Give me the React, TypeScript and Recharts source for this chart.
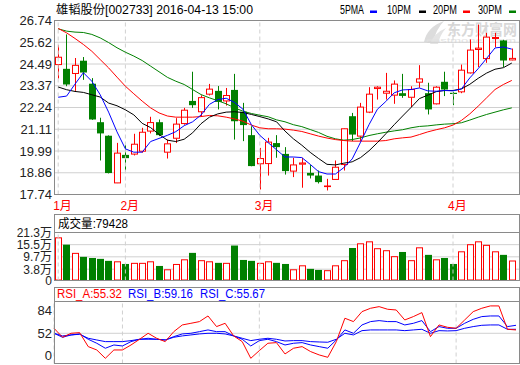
import React from 'react';
import { ComposedChart, BarChart, LineChart, Bar, Line, XAxis, YAxis, CartesianGrid, ReferenceLine } from 'recharts';

const OPEN = [24.46, 24.24, 24.0, 24.66, 23.47, 21.48, 20.78, 18.34, 19.79, 19.83, 19.98, 21.02, 21.48, 19.93, 20.65, 21.41, 22.58, 22.02, 22.93, 23.1, 22.58, 23.15, 22.02, 20.81, 19.33, 19.34, 20.4, 19.84, 18.95, 19.31, 18.86, 18.72, 18.16, 18.52, 19.29, 21.79, 20.76, 22.0, 23.22, 22.98, 22.88, 22.98, 22.77, 23.55, 22.98, 22.43, 23.57, 23.0, 23.05, 24.03, 25.24, 24.77, 25.81, 25.71, 24.7];
const HIGH = [25.46, 26.02, 24.8, 24.85, 23.76, 21.71, 20.8, 20.41, 20.3, 20.88, 21.19, 21.76, 21.62, 20.58, 21.69, 22.22, 24.09, 22.87, 23.46, 23.35, 23.25, 23.98, 22.48, 21.27, 20.15, 20.67, 20.81, 20.19, 19.64, 19.64, 19.26, 18.98, 18.55, 19.5, 21.16, 21.96, 22.48, 23.29, 23.34, 24.03, 23.64, 23.98, 23.34, 24.43, 23.52, 23.34, 24.09, 23.05, 24.46, 25.76, 26.53, 26.1, 26.1, 25.74, 25.29];
const LOW = [23.74, 23.34, 23.1, 23.67, 21.6, 19.5, 18.83, 18.33, 18.98, 19.76, 19.9, 20.9, 20.76, 19.6, 20.4, 21.35, 22.22, 21.76, 22.86, 22.14, 22.34, 20.58, 20.5, 19.2, 18.0, 18.72, 19.64, 18.77, 18.64, 18.09, 18.57, 18.31, 17.95, 18.5, 18.98, 20.5, 20.5, 21.95, 22.65, 22.65, 22.43, 22.74, 22.26, 23.26, 21.88, 22.4, 22.83, 22.36, 22.98, 24.0, 24.33, 24.55, 25.36, 24.33, 24.68];
const CLOSE = [24.84, 23.43, 24.42, 24.05, 21.62, 20.9, 18.85, 19.88, 19.62, 20.34, 20.96, 21.46, 20.81, 20.36, 21.38, 22.1, 22.36, 22.75, 23.19, 22.53, 22.86, 21.53, 21.33, 19.21, 19.6, 20.45, 20.19, 18.95, 19.27, 19.37, 18.72, 18.38, 18.18, 19.15, 21.14, 20.84, 22.26, 22.93, 23.29, 23.08, 23.45, 22.84, 23.17, 23.72, 22.14, 23.29, 23.17, 22.98, 24.17, 25.21, 25.31, 25.88, 25.86, 24.67, 24.78];

const MA5 = [22.77, 22.83, 23.45, 24.04, 23.6, 22.9, 22.0, 20.98, 20.1, 19.93, 19.93, 20.48, 20.64, 20.8, 20.99, 21.3, 21.5, 21.85, 22.4, 22.65, 22.72, 22.5, 22.15, 21.35, 20.8, 20.42, 20.05, 19.68, 19.68, 19.65, 19.3, 18.92, 18.8, 18.8, 19.13, 19.58, 20.45, 21.35, 22.15, 22.55, 23.0, 23.15, 23.17, 23.25, 23.1, 23.08, 23.12, 23.1, 23.2, 23.77, 24.25, 24.78, 25.32, 25.37, 25.26];
const MA10 = [23.3, 23.16, 23.07, 23.02, 22.9, 22.78, 22.47, 22.33, 22.12, 21.86, 21.42, 21.2, 20.85, 20.55, 20.48, 20.6, 20.93, 21.4, 21.74, 21.91, 22.0, 22.02, 21.98, 21.88, 21.77, 21.65, 21.5, 21.02, 20.62, 20.29, 19.92, 19.6, 19.3, 19.27, 19.36, 19.43, 19.65, 20.0, 20.42, 20.88, 21.35, 21.8, 22.24, 22.7, 22.88, 23.06, 23.12, 23.12, 23.2, 23.44, 23.75, 24.02, 24.22, 24.3, 24.54];
const MA20 = [26.33, 26.1, 25.81, 25.5, 25.15, 24.72, 24.29, 23.81, 23.34, 22.95, 22.57, 22.22, 21.96, 21.8, 21.74, 21.74, 21.74, 21.77, 21.83, 21.81, 21.74, 21.65, 21.53, 21.33, 21.19, 21.14, 21.14, 21.12, 21.07, 21.0, 20.88, 20.76, 20.66, 20.58, 20.53, 20.5, 20.5, 20.5, 20.5, 20.53, 20.62, 20.67, 20.71, 20.84, 20.98, 21.09, 21.19, 21.33, 21.57, 21.91, 22.31, 22.74, 23.17, 23.43, 23.64];
const MA30 = [26.31, 26.19, 26.14, 26.12, 26.02, 25.84, 25.6, 25.33, 25.1, 24.9, 24.67, 24.38, 24.09, 23.8, 23.6, 23.43, 23.17, 22.91, 22.74, 22.59, 22.43, 22.22, 22.05, 21.93, 21.84, 21.76, 21.6, 21.5, 21.35, 21.25, 21.1, 20.95, 20.75, 20.62, 20.55, 20.58, 20.67, 20.79, 20.88, 20.96, 21.03, 21.09, 21.19, 21.26, 21.29, 21.34, 21.38, 21.4, 21.45, 21.59, 21.74, 21.88, 22.0, 22.12, 22.22];

// volume in 万 (last bar = 79428)
const VOLUME = [18.99, 15.5, 11.58, 9.68, 9.15, 8.72, 7.77, 7.56, 6.29, 6.82, 6.82, 7.56, 5.34, 3.75, 6.29, 8.51, 11.58, 8.09, 7.56, 6.82, 6.82, 15.08, 8.2, 7.77, 6.82, 7.56, 6.82, 6.29, 3.75, 5.65, 3.96, 3.43, 3.32, 5.65, 8.09, 13.91, 16.14, 17.09, 13.81, 12.85, 10.0, 12.01, 8.09, 14.23, 10.63, 8.51, 9.15, 6.29, 12.33, 15.71, 17.09, 15.4, 12.33, 10.63, 7.94];

const RSI_A = [59.0, 46.4, 52.0, 52.9, 33.3, 28.6, 16.9, 28.6, 28.6, 35.6, 43.6, 52.0, 45.0, 40.3, 54.3, 63.7, 66.0, 68.4, 76.3, 61.4, 66.0, 48.3, 40.3, 16.9, 27.7, 38.0, 38.9, 23.0, 31.0, 33.3, 26.3, 21.6, 18.3, 40.3, 73.1, 68.4, 82.4, 87.1, 89.4, 85.7, 84.7, 70.7, 75.4, 81.0, 47.3, 63.7, 60.4, 59.0, 70.7, 82.4, 87.1, 90.4, 90.4, 57.6, 56.7];
const RSI_B = [52.0, 46.4, 49.7, 51.1, 43.6, 38.0, 31.0, 35.6, 34.2, 40.3, 43.6, 45.0, 43.6, 42.6, 47.3, 51.1, 52.0, 54.3, 56.7, 54.3, 54.3, 48.3, 43.6, 34.2, 41.7, 43.6, 40.3, 35.6, 38.0, 38.9, 35.6, 33.3, 31.0, 42.6, 56.7, 52.0, 63.7, 68.4, 69.8, 68.4, 68.4, 63.7, 66.0, 69.8, 54.3, 61.4, 59.0, 59.0, 66.0, 71.6, 75.4, 76.3, 76.3, 61.4, 63.2];
const RSI_C = [52.0, 48.3, 49.7, 50.6, 45.0, 42.6, 40.3, 40.3, 40.3, 41.7, 43.6, 43.6, 43.6, 42.6, 46.4, 48.3, 49.7, 51.1, 52.0, 52.0, 51.1, 48.3, 45.0, 41.7, 43.6, 45.0, 43.6, 41.2, 41.7, 41.7, 40.3, 39.8, 39.4, 43.6, 52.0, 49.7, 55.7, 56.7, 56.7, 56.7, 56.7, 55.7, 56.7, 57.6, 52.0, 55.7, 55.3, 55.7, 59.0, 61.4, 63.2, 63.7, 63.7, 57.6, 57.6];

const MONTH_TICKS = [0, 8, 24, 47];
const MONTH_LABELS = ['1月', '2月', '3月', '4月'];
const PRICE_TICKS = [17.74, 18.865, 19.99, 21.115, 22.24, 23.365, 24.49, 25.615, 26.74];
const PRICE_TICK_LABELS = ['17.74', '18.86', '19.99', '21.11', '22.24', '23.37', '24.49', '25.62', '26.74'];
// the bottom label "0" sits at the panel's lower edge, as in the reference
const VOL_TICKS = [-1.6, 3.8, 9.7, 15.5, 21.3];
const VOL_TICK_LABELS = ['0', '3.8万', '9.7万', '15.5万', '21.3万'];
const RSI_TICKS = [20.8, 52, 84];
const RSI_TICK_LABELS = ['0', '52', '84'];

const TITLE = '雄韬股份[002733] 2016-04-13 15:00';
const LEGEND_NAMES = ['5PMA', '10PM', '20PM', '30PM'];
const VOL_TITLE = '成交量:79428';
const RSI_NAMES = ['RSI_A:55.32', 'RSI_B:59.16', 'RSI_C:55.67'];

const RED = '#ff0000';
const GREEN = '#008000';
const BLUE = '#0000ff';
const BLACK = '#000000';
const GRID = '#d0d0d0';
const FRAME = '#8a8a8a';
const FONT = "'Liberation Sans', Arial, 'Noto Sans CJK SC', sans-serif";

const data = CLOSE.map((c, i) => ({
  i,
  open: OPEN[i],
  high: HIGH[i],
  low: LOW[i],
  close: c,
  range: [LOW[i], HIGH[i]],
  ma5: MA5[i],
  ma10: MA10[i],
  ma20: MA20[i],
  ma30: MA30[i],
  vol: VOLUME[i],
  rsiA: RSI_A[i],
  rsiB: RSI_B[i],
  rsiC: RSI_C[i],
}));

const PAD = { left: 0, right: 3 };

function Candle(props: any) {
  const { x, y, width, height, payload } = props;
  if (!payload || !isFinite(y) || !isFinite(height)) return null;
  const { open, close, high, low } = payload;
  const cx = Math.floor(x + width / 2) + 0.5;
  const py = (v: number) => y + ((high - v) / (high - low)) * height;
  const up = close >= open;
  const top = py(Math.max(open, close));
  const bot = py(Math.min(open, close));
  if (up) {
    return (
      <g>
        <line x1={cx} x2={cx} y1={y} y2={top} stroke={RED} />
        <line x1={cx} x2={cx} y1={bot} y2={y + height} stroke={RED} />
        <rect x={cx - 3} y={top} width={6} height={Math.max(bot - top, 0.6)} fill="#fff" stroke={RED} />
      </g>
    );
  }
  return (
    <g>
      <line x1={cx} x2={cx} y1={y} y2={y + height} stroke={GREEN} />
      <rect x={cx - 3.5} y={top} width={7} height={Math.max(bot - top, 1.2)} fill={GREEN} />
    </g>
  );
}

function VolBar(props: any) {
  const { x, y, width, height, payload, background } = props;
  if (!payload || !isFinite(y) || !isFinite(height)) return null;
  const up = payload.close >= payload.open;
  const cx = Math.floor(x + width / 2) + 0.5;
  const bottom = background && isFinite(background.y) && isFinite(background.height) ? background.y + background.height : y + height;
  const h = Math.max(bottom - y, 0);
  if (up) {
    return <rect x={cx - 3} y={y + 0.5} width={6} height={Math.max(h - 1, 0)} fill="#fff" stroke={RED} />;
  }
  return <rect x={cx - 3.5} y={y} width={7} height={h} fill={GREEN} />;
}

function MonthTick(props: any) {
  const { x, y, payload } = props;
  const k = MONTH_TICKS.indexOf(payload.value);
  if (k < 0) return null;
  return (
    <text x={x - 5} y={y + 13} fill={RED} fontSize={12} fontFamily={FONT} textAnchor="start">
      {MONTH_LABELS[k]}
    </text>
  );
}

const makeYTick = (ticks: number[], labels: string[], size: number) => (props: any) => {
  const { x, y, payload } = props;
  const k = ticks.indexOf(payload.value);
  if (k < 0) return null;
  return (
    <text x={x} y={y} dy="0.36em" textAnchor="end" fontSize={size} fill="#222" fontFamily={FONT}>
      {labels[k]}
    </text>
  );
};

const PriceTick = makeYTick(PRICE_TICKS, PRICE_TICK_LABELS, 13);
const VolTick = makeYTick(VOL_TICKS, VOL_TICK_LABELS, 12);
const RsiTick = makeYTick(RSI_TICKS, RSI_TICK_LABELS, 13);

const LEGEND_COLORS = [BLUE, BLACK, RED, GREEN];
const LEGEND_X = [340, 387, 433, 478];
const LEGEND_DASH_X = [370, 419, 463, 509];
const RSI_COLORS = [RED, BLUE, BLUE];
const RSI_X = [57, 128, 200];

export default function App() {
  const abs: React.CSSProperties = { position: 'absolute', left: 0, top: 0 };
  return (
    <div style={{ position: 'absolute', left: 0, top: 0, width: 520, height: 365, background: '#fff', fontFamily: FONT, overflow: 'hidden' }}>
      {/* watermark */}
      <svg width={520} height={365} style={abs}>
        <path d="M424,42 Q427,27 444,21 Q436,29 433,43 Z" fill="#dcdcdc" />
        <path d="M430,44 Q434,33 446,28 Q440,35 438,44 Z" fill="#e4e4e4" />
        <text x={447} y={35} fontSize={15} fontWeight="bold" fill="#d8d8d8" fontFamily={FONT} textLength={70} lengthAdjust="spacingAndGlyphs">东方财富网</text>
        <text x={426} y={43} fontSize={8} fill="#e2e2e2" fontFamily={FONT} textLength={90} lengthAdjust="spacingAndGlyphs">eastmoney.com</text>
      </svg>

      {/* price panel */}
      <div style={abs}>
        <ComposedChart width={520} height={215} data={data} margin={{ top: 20.5, right: 1, bottom: 0.5, left: 0 }}>
          <CartesianGrid vertical={false} stroke={GRID} />
          <XAxis dataKey="i" type="category" padding={PAD} ticks={MONTH_TICKS} interval={0} axisLine={false} tickLine={false} tickSize={0} tickMargin={2} height={20} tick={(p: any) => <MonthTick {...p} />} />
          <YAxis domain={[17.74, 26.74]} allowDataOverflow ticks={PRICE_TICKS} interval={0} width={54} axisLine={false} tickLine={false} tickSize={0} tickMargin={2} tick={(p: any) => <PriceTick {...p} />} />
          {MONTH_TICKS.map((m) => (
            <ReferenceLine key={m} x={m} stroke={GRID} strokeDasharray="4 3" />
          ))}
          <Bar dataKey="range" barSize={7} shape={(p: any) => <Candle {...p} />} isAnimationActive={false} />
          <Line dataKey="ma30" type="linear" stroke={GREEN} strokeWidth={1} dot={false} activeDot={false} isAnimationActive={false} />
          <Line dataKey="ma20" type="linear" stroke={RED} strokeWidth={1} dot={false} activeDot={false} isAnimationActive={false} />
          <Line dataKey="ma10" type="linear" stroke={BLACK} strokeWidth={1} dot={false} activeDot={false} isAnimationActive={false} />
          <Line dataKey="ma5" type="linear" stroke={BLUE} strokeWidth={1} dot={false} activeDot={false} isAnimationActive={false} />
        </ComposedChart>
      </div>

      {/* volume panel */}
      <div style={abs}>
        <BarChart width={520} height={292} data={data} margin={{ top: 232.5, right: 1, bottom: 11.5, left: 0 }}>
          <CartesianGrid vertical={false} stroke={GRID} />
          <XAxis dataKey="i" type="category" padding={PAD} hide />
          <YAxis domain={[-1.6, 21.3]} allowDataOverflow ticks={VOL_TICKS} interval={0} width={54} axisLine={false} tickLine={false} tickSize={0} tickMargin={2} tick={(p: any) => <VolTick {...p} />} />
          {MONTH_TICKS.map((m) => (
            <ReferenceLine key={m} x={m} stroke={GRID} strokeDasharray="4 3" />
          ))}
          <Bar dataKey="vol" barSize={7} shape={(p: any) => <VolBar {...p} />} isAnimationActive={false} />
        </BarChart>
      </div>

      {/* RSI panel */}
      <div style={abs}>
        <LineChart width={520} height={365} data={data} margin={{ top: 301.5, right: 1, bottom: 1.5, left: 0 }}>
          <XAxis dataKey="i" type="category" padding={PAD} hide />
          <YAxis domain={[9.6, 96.6]} allowDataOverflow ticks={RSI_TICKS} interval={0} width={54} axisLine={false} tickLine={false} tickSize={0} tickMargin={2} tick={(p: any) => <RsiTick {...p} />} />
          <ReferenceLine y={52} stroke={GRID} />
          {MONTH_TICKS.map((m) => (
            <ReferenceLine key={m} x={m} stroke={GRID} strokeDasharray="4 3" />
          ))}
          <Line dataKey="rsiC" type="linear" stroke={BLUE} strokeWidth={1} dot={false} activeDot={false} isAnimationActive={false} />
          <Line dataKey="rsiB" type="linear" stroke={BLUE} strokeWidth={1} dot={false} activeDot={false} isAnimationActive={false} />
          <Line dataKey="rsiA" type="linear" stroke={RED} strokeWidth={1} dot={false} activeDot={false} isAnimationActive={false} />
        </LineChart>
      </div>

      {/* frames and titles */}
      <svg width={520} height={365} style={{ ...abs, pointerEvents: 'none' }}>
        <text x={56} y={14} fontSize={12} fill="#000" fontFamily={FONT} textLength={197} lengthAdjust="spacingAndGlyphs">{TITLE}</text>
        {LEGEND_NAMES.map((n, k) => (
          <g key={n}>
            <text x={LEGEND_X[k]} y={14} fontSize={12} fill="#000" fontFamily={FONT} textLength={24} lengthAdjust="spacingAndGlyphs">{n}</text>
            <rect x={LEGEND_DASH_X[k]} y={10.5} width={7} height={2.5} fill={LEGEND_COLORS[k]} />
          </g>
        ))}
        <rect x={54.5} y={20.5} width={465} height={174} fill="none" stroke={FRAME} />

        <rect x={54.5} y={214.5} width={465} height={66} fill="none" stroke={FRAME} />
        <line x1={54.5} x2={519.5} y1={232.5} y2={232.5} stroke={FRAME} />
        <text x={58} y={228} fontSize={12} fill="#000" fontFamily={FONT} textLength={70} lengthAdjust="spacingAndGlyphs">{VOL_TITLE}</text>

        <rect x={54.5} y={287.5} width={465} height={76} fill="none" stroke={FRAME} />
        <line x1={54.5} x2={519.5} y1={301.5} y2={301.5} stroke={FRAME} />
        {RSI_NAMES.map((n, k) => (
          <text key={n} x={RSI_X[k]} y={298} fontSize={12} fill={RSI_COLORS[k]} fontFamily={FONT} textLength={65} lengthAdjust="spacingAndGlyphs">{n}</text>
        ))}
      </svg>
    </div>
  );
}
